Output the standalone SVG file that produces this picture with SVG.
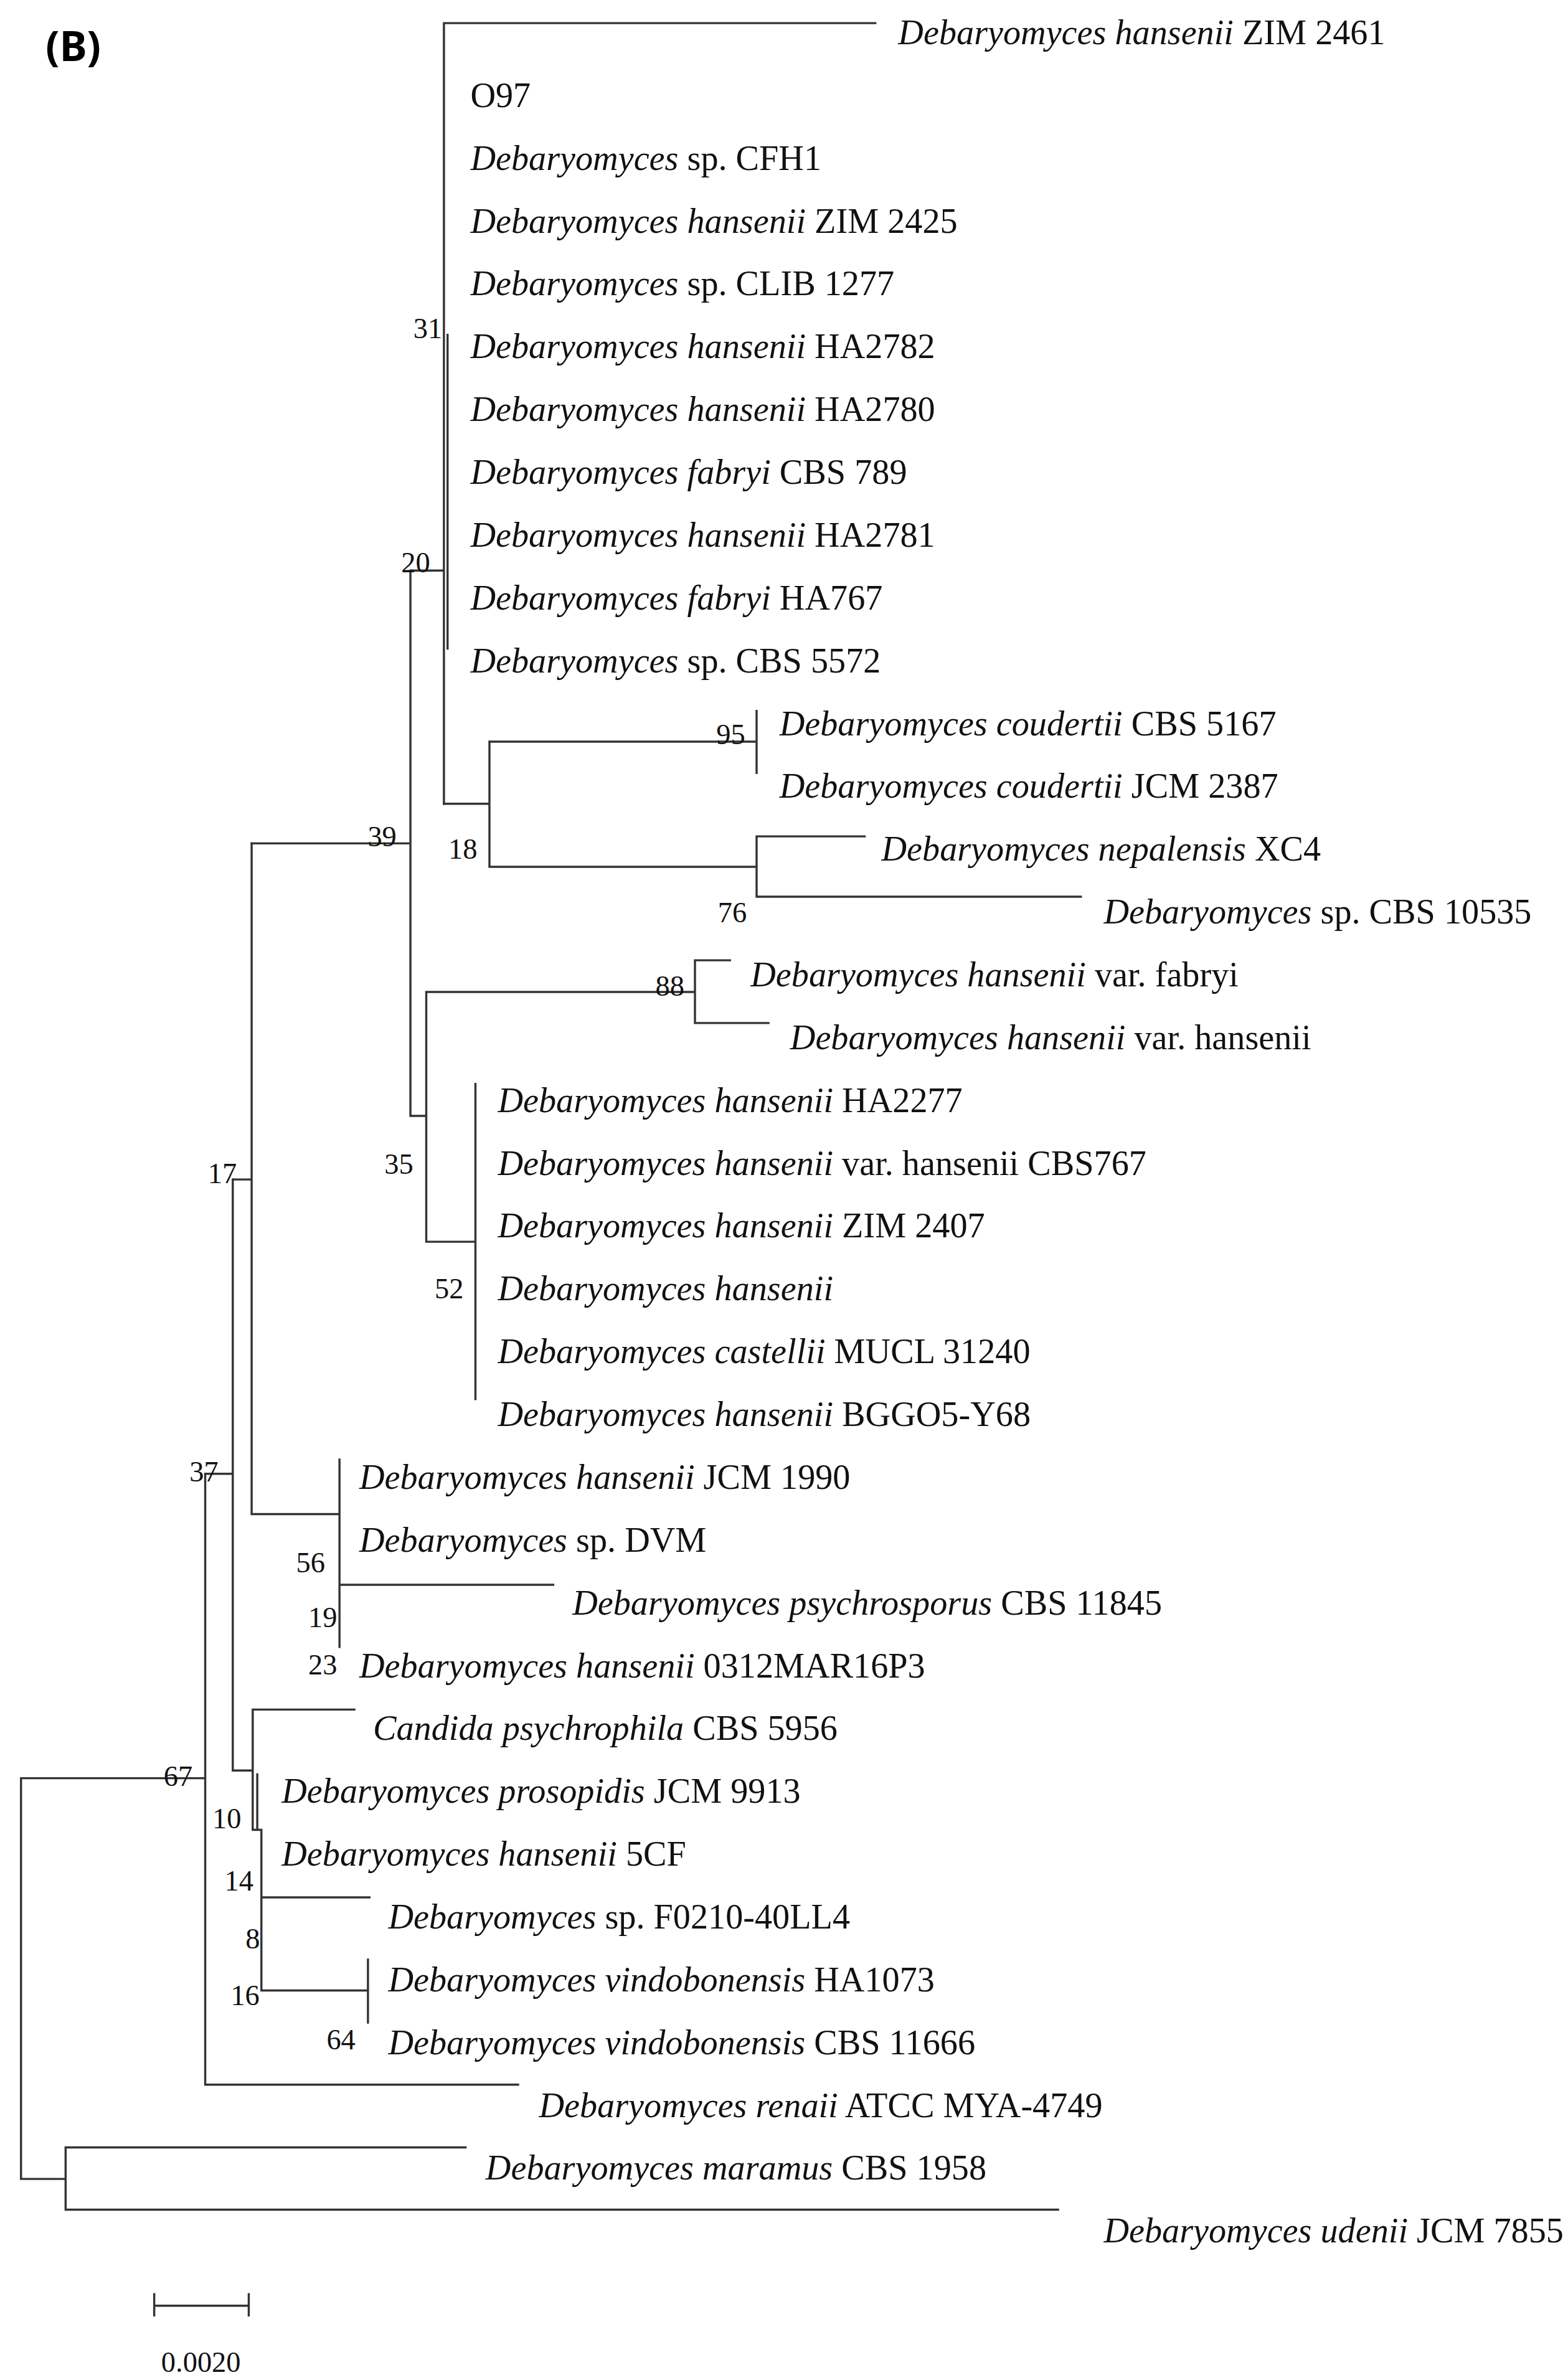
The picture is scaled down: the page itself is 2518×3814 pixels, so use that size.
<svg xmlns="http://www.w3.org/2000/svg" width="2518" height="3814" viewBox="0 0 2518 3814">
<style>
.t{font-family:"Liberation Serif","Times New Roman",serif;font-size:23px;fill:#111}
.b{font-family:"Liberation Serif","Times New Roman",serif;font-size:19px;fill:#111;text-anchor:middle}
.e{stroke:#333;stroke-width:1.4;fill:none;stroke-linecap:square}
</style>
<rect width="2518" height="3814" fill="#fff"/>
<g transform="scale(2.4447)">
<text x="30" y="40" style="font-family:'Noto Sans','Open Sans',sans-serif;font-size:27px;font-weight:bold;fill:#000">(B)</text>
<g id="edges" class="e">
<path d="M291.6,15.2H575 M291.6,15.2V528 M294,220V426 M270.3,374.8H291.6"/>
<path d="M291.6,528H321.5 M321.5,487.2V569.4 M321.5,487.2H497 M497,467V507.7 M321.5,569.4H497 M497,549.4V589 M497,549.4H568 M497,589H710"/>
<path d="M165.3,554H269.6 M269.6,374.8V733 M269.6,733H280 M280,651.6V815.7 M280,651.6H456.5 M456.5,630.8V672 M456.5,630.8H479.5 M456.5,672H504.8 M280,815.7H312.3 M312.3,712V919"/>
<path d="M153.2,774.8H165.3 M165.3,554V994.6 M165.3,994.6H223 M223,958.8V1081.8 M223,1041H363.4"/>
<path d="M134.8,968.1H152.9 M152.9,774.8V1163 M152.9,1163H166 M166,1123V1202 M166,1123H232.8 M169,1165.6V1202 M166,1202H171.7 M171.7,1202V1307.5 M171.7,1246.4H242.7 M171.7,1307.5H241.7 M241.7,1287.3V1328.6"/>
<path d="M13.8,1168.1H134.8 M134.8,968.1V1369.4 M134.8,1369.4H340.3 M13.8,1168.1V1431.3 M13.8,1431.3H43.1 M43.1,1410.6V1451.5 M43.1,1410.6H305.8 M43.1,1451.5H695"/>
<path d="M101.3,1514.6H163.4 M101.3,1507V1521 M163.4,1507V1521"/>
</g>
<g id="leaves" class="t">
<text x="590" y="29"><tspan font-style="italic">Debaryomyces hansenii</tspan> ZIM 2461</text>
<text x="309" y="70.3">O97</text>
<text x="309" y="111.5"><tspan font-style="italic">Debaryomyces</tspan> sp. CFH1</text>
<text x="309" y="152.8"><tspan font-style="italic">Debaryomyces hansenii</tspan> ZIM 2425</text>
<text x="309" y="194"><tspan font-style="italic">Debaryomyces</tspan> sp. CLIB 1277</text>
<text x="309" y="235.3"><tspan font-style="italic">Debaryomyces hansenii</tspan> HA2782</text>
<text x="309" y="276.6"><tspan font-style="italic">Debaryomyces hansenii</tspan> HA2780</text>
<text x="309" y="317.8"><tspan font-style="italic">Debaryomyces fabryi</tspan> CBS 789</text>
<text x="309" y="359.1"><tspan font-style="italic">Debaryomyces hansenii</tspan> HA2781</text>
<text x="309" y="400.3"><tspan font-style="italic">Debaryomyces fabryi</tspan> HA767</text>
<text x="309" y="441.6"><tspan font-style="italic">Debaryomyces</tspan> sp. CBS 5572</text>
<text x="512" y="482.9"><tspan font-style="italic">Debaryomyces coudertii</tspan> CBS 5167</text>
<text x="512" y="524.1"><tspan font-style="italic">Debaryomyces coudertii</tspan> JCM 2387</text>
<text x="579" y="565.4"><tspan font-style="italic">Debaryomyces nepalensis</tspan> XC4</text>
<text x="725" y="606.6"><tspan font-style="italic">Debaryomyces</tspan> sp. CBS 10535</text>
<text x="493" y="647.9"><tspan font-style="italic">Debaryomyces hansenii</tspan> var. fabryi</text>
<text x="519" y="689.2"><tspan font-style="italic">Debaryomyces hansenii</tspan> var. hansenii</text>
<text x="327" y="730.4"><tspan font-style="italic">Debaryomyces hansenii</tspan> HA2277</text>
<text x="327" y="771.7"><tspan font-style="italic">Debaryomyces hansenii</tspan> var. hansenii CBS767</text>
<text x="327" y="812.9"><tspan font-style="italic">Debaryomyces hansenii</tspan> ZIM 2407</text>
<text x="327" y="854.2"><tspan font-style="italic">Debaryomyces hansenii</tspan></text>
<text x="327" y="895.5"><tspan font-style="italic">Debaryomyces castellii</tspan> MUCL 31240</text>
<text x="327" y="936.7"><tspan font-style="italic">Debaryomyces hansenii</tspan> BGGO5-Y68</text>
<text x="236" y="978"><tspan font-style="italic">Debaryomyces hansenii</tspan> JCM 1990</text>
<text x="236" y="1019.2"><tspan font-style="italic">Debaryomyces</tspan> sp. DVM</text>
<text x="376" y="1060.5"><tspan font-style="italic">Debaryomyces psychrosporus</tspan> CBS 11845</text>
<text x="236" y="1101.8"><tspan font-style="italic">Debaryomyces hansenii</tspan> 0312MAR16P3</text>
<text x="245" y="1143"><tspan font-style="italic">Candida psychrophila</tspan> CBS 5956</text>
<text x="185" y="1184.3"><tspan font-style="italic">Debaryomyces prosopidis</tspan> JCM 9913</text>
<text x="185" y="1225.5"><tspan font-style="italic">Debaryomyces hansenii</tspan> 5CF</text>
<text x="255" y="1266.8"><tspan font-style="italic">Debaryomyces</tspan> sp. F0210-40LL4</text>
<text x="255" y="1308.1"><tspan font-style="italic">Debaryomyces vindobonensis</tspan> HA1073</text>
<text x="255" y="1349.3"><tspan font-style="italic">Debaryomyces vindobonensis</tspan> CBS 11666</text>
<text x="354" y="1390.6"><tspan font-style="italic">Debaryomyces renaii</tspan> ATCC MYA-4749</text>
<text x="319" y="1431.8"><tspan font-style="italic">Debaryomyces maramus</tspan> CBS 1958</text>
<text x="725" y="1473.1"><tspan font-style="italic">Debaryomyces udenii</tspan> JCM 7855</text>
</g>
<g id="support" class="b">
<text x="281" y="222">31</text><text x="273" y="376">20</text><text x="480" y="489">95</text>
<text x="304" y="564">18</text><text x="481" y="606">76</text><text x="251" y="556">39</text>
<text x="440" y="654">88</text><text x="262" y="771">35</text><text x="295" y="853">52</text>
<text x="146" y="777">17</text><text x="134" y="973">37</text><text x="204" y="1033">56</text>
<text x="212" y="1069">19</text><text x="212" y="1100">23</text><text x="117" y="1173">67</text>
<text x="149" y="1201">10</text><text x="157" y="1242">14</text><text x="166" y="1280">8</text>
<text x="161" y="1317">16</text><text x="224" y="1346">64</text>
<text x="132" y="1558">0.0020</text>
</g>
</g>
</svg>
